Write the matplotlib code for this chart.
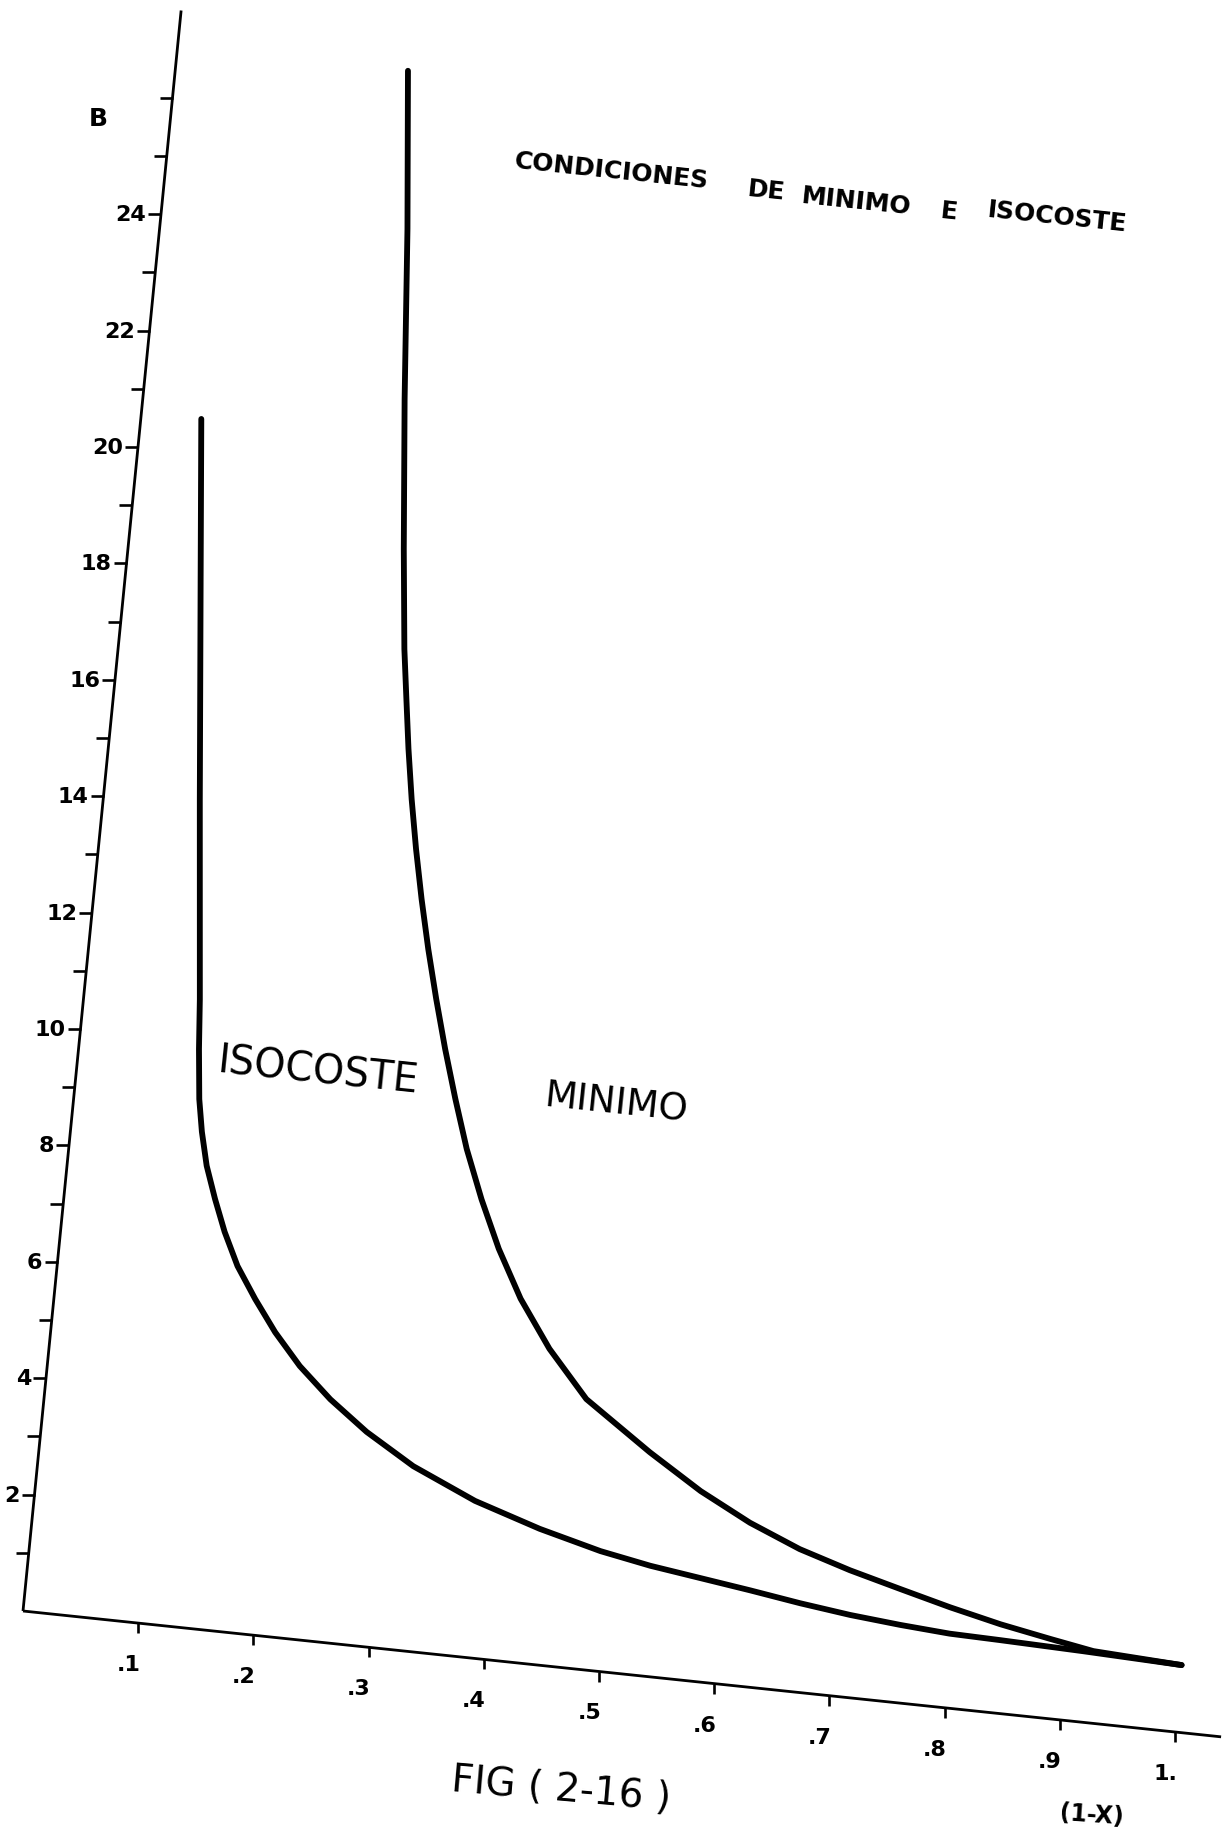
import numpy as np
import matplotlib
matplotlib.use("Agg")
import matplotlib.pyplot as plt
from matplotlib.transforms import Affine2D, offset_copy
from matplotlib.markers import TICKLEFT, TICKDOWN

plt.rcParams["font.family"] = ["DejaVu Sans"]

# --- data: (1-x) on the horizontal axis, B on the vertical axis ---
iso_x = [0.052, 0.065, 0.083, 0.100, 0.1035, 0.108, 0.113, 0.120, 0.130,
         0.141, 0.155, 0.173, 0.193, 0.217, 0.246, 0.280, 0.323, 0.379,
         0.437, 0.491, 0.535, 0.579, 0.623, 0.667, 0.711, 0.755, 0.798,
         0.842, 0.914, 1.000]
iso_b = [20.59, 17.87, 14.12, 10.72, 9.87, 9.02, 8.47, 7.90, 7.35,
         6.81, 6.25, 5.72, 5.19, 4.66, 4.15, 3.66, 3.16, 2.68,
         2.32, 2.05, 1.89, 1.77, 1.65, 1.52, 1.41, 1.33, 1.27,
         1.25, 1.21, 1.15]

min_x = [0.200, 0.213, 0.225, 0.237, 0.246, 0.252, 0.258, 0.265, 0.273,
         0.282, 0.292, 0.303, 0.315, 0.328, 0.342, 0.359, 0.378, 0.401,
         0.430, 0.466, 0.525, 0.572, 0.617, 0.662, 0.707, 0.752, 0.796,
         0.841, 0.885, 0.923, 1.000]
min_b = [26.88, 24.19, 21.29, 18.74, 17.04, 16.19, 15.35, 14.50, 13.66,
         12.82, 11.98, 11.15, 10.31, 9.48, 8.65, 7.82, 7.01, 6.20,
         5.40, 4.61, 3.82, 3.25, 2.80, 2.44, 2.17, 1.94, 1.72,
         1.52, 1.36, 1.23, 1.15]

y_ticks = list(range(1, 27))
y_label_vals = [2, 4, 6, 8, 10, 12, 14, 16, 18, 20, 22, 24]
y_label_txt = ["2", "4", "6", "8", "10", "12", "14", "16", "18", "20", "22", "24"]
x_ticks = [0.1, 0.2, 0.3, 0.4, 0.5, 0.6, 0.7, 0.8, 0.9, 1.0]
x_label_txt = [".1", ".2", ".3", ".4", ".5", ".6", ".7", ".8", ".9", "1."]

x_axis_end = 1.04
y_axis_end = 27.5

# --- figure: a page-sized canvas with a sheared chart frame ---
fig = plt.figure(figsize=(12.22, 18.33), dpi=100)
ax = fig.add_axes([0, 0, 1, 1])
ax.set_xlim(0, 1222)
ax.set_ylim(1833, 0)
ax.axis("off")

# (1-x, B) -> page coordinates of the slanted frame
frame = Affine2D().from_values(1152, 121, 5.75, -58.2, 23, 1612)
T = frame + ax.transData

ink = "black"

# axes
ax.plot([0, x_axis_end], [0, 0], color=ink, lw=2.0, transform=T,
        solid_capstyle="butt")
ax.plot([0, 0], [0, y_axis_end], color=ink, lw=2.0, transform=T,
        solid_capstyle="butt")

# ticks
ax.plot(np.zeros(len(y_ticks)), y_ticks, ls="none", marker=TICKLEFT,
        ms=9.4, mew=1.9, color=ink, transform=T)
ax.plot(x_ticks, np.zeros(len(x_ticks)), ls="none", marker=TICKDOWN,
        ms=7.2, mew=1.9, color=ink, transform=T)

# tick labels
y_lab_tr = offset_copy(T, fig=fig, x=-15, y=0, units="dots")
for v, t in zip(y_label_vals, y_label_txt):
    ax.text(0, v, t, transform=y_lab_tr, ha="right", va="center",
            fontsize=16, fontweight="bold", color=ink)

x_lab_tr = offset_copy(T, fig=fig, x=2, y=-41, units="dots")
for v, t in zip(x_ticks, x_label_txt):
    ax.text(v, 0, t, transform=x_lab_tr, ha="right", va="center",
            fontsize=16, fontweight="bold", color=ink)

# curves
ax.plot(iso_x, iso_b, color=ink, lw=4.2, transform=T,
        solid_joinstyle="round", solid_capstyle="round")
ax.plot(min_x, min_b, color=ink, lw=4.2, transform=T,
        solid_joinstyle="round", solid_capstyle="round")

# axis names
ax.text(98, 119, "B", ha="center", va="center", fontsize=18,
        fontweight="bold", color=ink)
ax.text(1092, 1815, "(1-X)", ha="center", va="center", fontsize=17,
        fontweight="bold", color=ink, rotation=-4, rotation_mode="anchor")

# heading, lettered word by word along a slanted line
heading_words = ["CONDICIONES", "DE", "MINIMO", "E", "ISOCOSTE"]
heading_pos = [(612, 171), (766, 191), (856, 202), (949, 212), (1057, 217)]
for w, (px, py) in zip(heading_words, heading_pos):
    ax.text(px, py, w, ha="center", va="center", fontsize=18,
            fontweight="bold", color=ink, rotation=-6,
            rotation_mode="anchor")

# curve names
ax.text(318, 1072, "ISOCOSTE", ha="center", va="center", fontsize=28.5,
        color=ink, rotation=-6, rotation_mode="anchor")
ax.text(616, 1104, "MINIMO", ha="center", va="center", fontsize=27,
        color=ink, rotation=-6, rotation_mode="anchor")

# figure caption
ax.text(561, 1790, "FIG ( 2-16 )", ha="center", va="center", fontsize=28,
        color=ink, rotation=-5, rotation_mode="anchor")

fig.savefig("out.png", dpi=100, facecolor="white")
